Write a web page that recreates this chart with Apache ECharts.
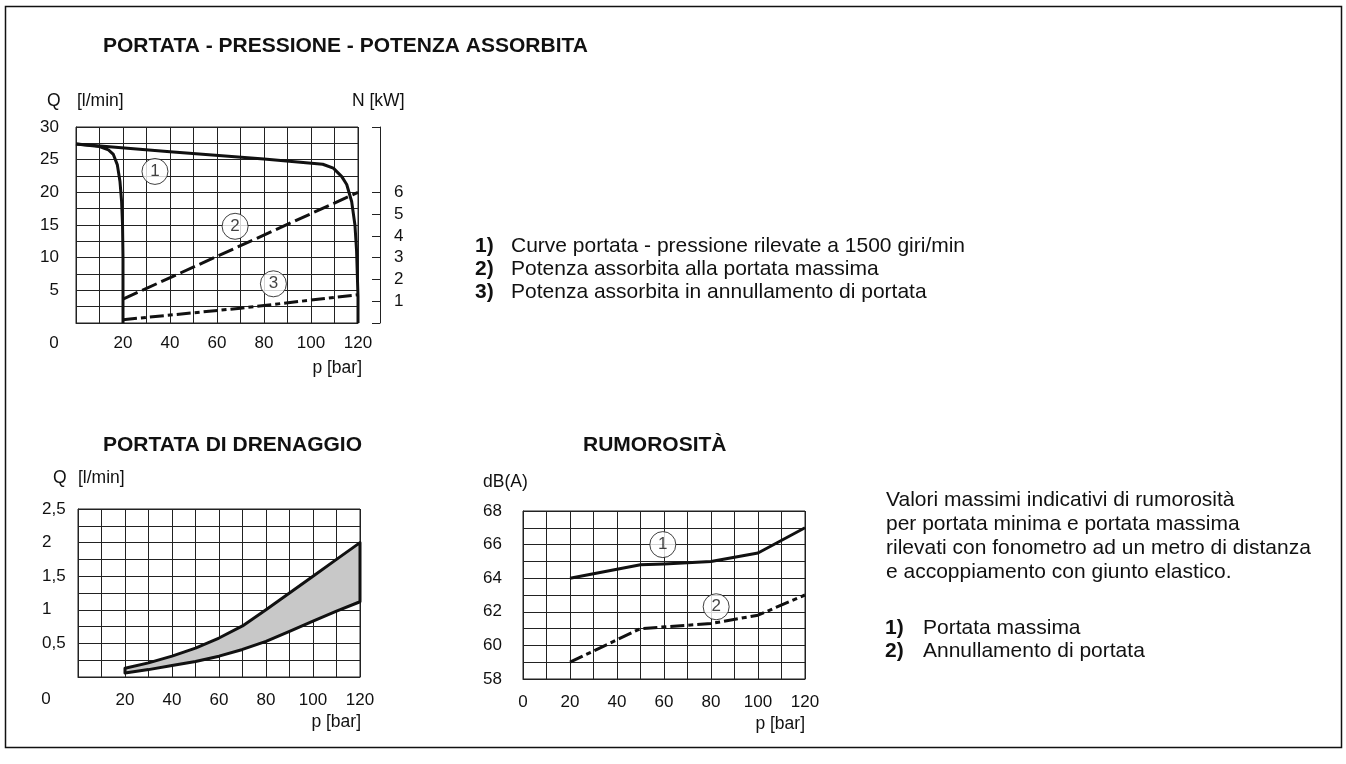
<!DOCTYPE html>
<html>
<head>
<meta charset="utf-8">
<title>Portata - pressione - potenza assorbita</title>
<script src="https://cdn.jsdelivr.net/npm/echarts@6/dist/echarts.min.js"></script>
<style>
  html, body { margin: 0; padding: 0; background: #fff; }
  #main { width: 1346px; height: 764px; }
</style>
</head>
<body>
<div id="main"></div>
<script>
// --- portata / pressione : p [bar], Q [l/min]
var flowLeft = [[0, 27.4], [10, 27.0], [13.8, 26.5], [15.9, 25.8], [17.6, 24.2], [18.7, 21.7], [19.4, 18.6], [19.8, 15], [20, 10], [20, 0]];
var flowRight = [[0, 27.4], [40, 26.2], [80, 25.1], [105, 24.3], [109.5, 23.7], [113.1, 22.4], [115.2, 21.2], [117.3, 18.6], [118.7, 15], [119.4, 11], [120, 4], [120, 0]];
// potenza assorbita : p [bar], N [kW]
var powerMax = [[20, 1.1], [120, 6.0]];
var powerZero = [[20, 0.15], [70, 0.68], [120, 1.3]];
var topMarks = [[33.6, 23.2, '1'], [67.7, 14.8, '2'], [84, 6.0, '3']];

// --- portata di drenaggio : p [bar], Q [l/min]
var drainUpper = [[20, 0.13], [30, 0.21], [40, 0.31], [50, 0.43], [60, 0.58], [70, 0.76], [80, 1.0], [90, 1.25], [100, 1.5], [110, 1.75], [120, 2.0]];
var drainLower = [[20, 0.06], [30, 0.11], [40, 0.17], [50, 0.23], [60, 0.31], [70, 0.41], [80, 0.53], [90, 0.68], [100, 0.83], [110, 0.98], [120, 1.12]];

// --- rumorosita : p [bar], dB(A)
var noiseMax = [[20, 64.0], [50, 64.8], [60, 64.85], [80, 65.0], [100, 65.5], [120, 67.0]];
var noiseZero = [[20, 59.0], [50, 61.0], [80, 61.3], [100, 61.8], [120, 63.0]];
var noiseMarks = [[59.5, 66.0, '1'], [82.2, 62.3, '2']];

// tick labels
var pTicksTop = [20, 40, 60, 80, 100, 120];
var pTicksNoise = [0, 20, 40, 60, 80, 100, 120];
var qTicksTop = [5, 10, 15, 20, 25, 30];
var nTicks = [1, 2, 3, 4, 5, 6];
var nTickMarks = [0, 1, 2, 3, 4, 5, 6, 9];
var qTicksDrain = [0.5, 1, 1.5, 2, 2.5];
var dbTicks = [58, 60, 62, 64, 66, 68];

var FONT = "'Liberation Sans', Arial, Helvetica, sans-serif";
var TICK = 17;
var BODY = 21;
var gridLine = { show: true, lineStyle: { color: '#222', width: 1 } };
var axisLine = { show: true, lineStyle: { color: '#222', width: 1 } };

function pAxis(gridIndex, ticks, margin) {
  return {
    type: 'value', gridIndex: gridIndex, min: 0, max: 120, interval: 10,
    axisLine: axisLine, axisTick: { show: false }, splitLine: gridLine,
    axisLabel: { customValues: ticks, margin: margin, color: '#111', fontSize: TICK, fontFamily: FONT }
  };
}

function curve(data, xi, yi, dash) {
  return {
    type: 'line', data: data, xAxisIndex: xi, yAxisIndex: yi,
    symbol: 'none', smooth: false, silent: true,
    lineStyle: { color: '#111', width: 3, type: dash || 'solid', cap: 'butt', join: 'round' }
  };
}

function circles(data, xi, yi) {
  return {
    type: 'scatter', data: data, xAxisIndex: xi, yAxisIndex: yi, z: 5, silent: true,
    symbol: 'circle', symbolSize: 26,
    itemStyle: { color: '#fff', borderColor: '#111', borderWidth: 1 },
    label: { show: true, position: 'inside', formatter: function (p) { return p.value[2]; }, color: '#111', fontSize: 17, fontFamily: FONT }
  };
}

function txt(s, x, y, size, bold, align) {
  return {
    type: 'text', x: x, y: y, silent: true,
    style: {
      text: s, fill: '#111', font: (bold ? 'bold ' : '') + size + 'px ' + FONT,
      align: align || 'left', verticalAlign: 'middle',
      textAlign: align || 'left', textVerticalAlign: 'middle'
    }
  };
}

var texts = [
  txt('PORTATA - PRESSIONE - POTENZA ASSORBITA', 103, 46, 21, true),
  txt('Q', 47, 101, 17.5), txt('[l/min]', 77, 101, 17.5),
  txt('N [kW]', 352, 101, 17.5),
  txt('0', 54, 343, TICK, false, 'center'),
  txt('p [bar]', 362, 368, 17.5, false, 'right'),
  txt('1)', 475, 246, BODY, true), txt('Curve portata - pressione rilevate a 1500 giri/min', 511, 246, BODY),
  txt('2)', 475, 269, BODY, true), txt('Potenza assorbita alla portata massima', 511, 269, BODY),
  txt('3)', 475, 292, BODY, true), txt('Potenza assorbita in annullamento di portata', 511, 292, BODY),

  txt('PORTATA DI DRENAGGIO', 103, 445, 21, true),
  txt('Q', 53, 478, 17.5), txt('[l/min]', 78, 478, 17.5),
  txt('0', 46, 699, TICK, false, 'center'),
  txt('p [bar]', 361, 722, 17.5, false, 'right'),

  txt('RUMOROSITÀ', 583, 445, 21, true),
  txt('dB(A)', 483, 482, 17.5),
  txt('p [bar]', 805, 724, 17.5, false, 'right'),

  txt('Valori massimi indicativi di rumorosità', 886, 500, BODY),
  txt('per portata minima e portata massima', 886, 524, BODY),
  txt('rilevati con fonometro ad un metro di distanza', 886, 548, BODY),
  txt('e accoppiamento con giunto elastico.', 886, 572, BODY),
  txt('1)', 885, 628, BODY, true), txt('Portata massima', 923, 628, BODY),
  txt('2)', 885, 651, BODY, true), txt('Annullamento di portata', 923, 651, BODY)
];

var frame = {
  type: 'rect', silent: true, z: -1,
  shape: { x: 5.5, y: 6.5, width: 1336, height: 741 },
  style: { fill: 'none', stroke: '#111', lineWidth: 1.5 }
};

var chart = echarts.init(document.getElementById('main'), null, { renderer: 'canvas' });

chart.setOption({
  animation: false,
  backgroundColor: '#fff',
  grid: [
    { left: 76, top: 127, width: 282, height: 196, show: true, borderColor: '#222', borderWidth: 1 },
    { left: 78, top: 509, width: 282, height: 168, show: true, borderColor: '#222', borderWidth: 1 },
    { left: 523, top: 511, width: 282, height: 168, show: true, borderColor: '#222', borderWidth: 1 }
  ],
  xAxis: [
    pAxis(0, pTicksTop, 12),
    pAxis(1, pTicksTop, 15),
    pAxis(2, pTicksNoise, 15)
  ],
  yAxis: [
    {
      type: 'value', gridIndex: 0, min: 0, max: 30, interval: 2.5,
      axisLine: axisLine, axisTick: { show: false }, splitLine: gridLine,
      axisLabel: { customValues: qTicksTop, margin: 17, color: '#111', fontSize: TICK, fontFamily: FONT }
    },
    {
      type: 'value', gridIndex: 0, min: 0, max: 9, interval: 1, position: 'right', offset: 22,
      axisLine: axisLine, splitLine: { show: false },
      axisTick: { show: true, inside: true, length: 8, customValues: nTickMarks, lineStyle: { color: '#222' } },
      axisLabel: { customValues: nTicks, margin: 14, color: '#111', fontSize: TICK, fontFamily: FONT }
    },
    {
      type: 'value', gridIndex: 1, min: 0, max: 2.5, interval: 0.25,
      axisLine: axisLine, axisTick: { show: false }, splitLine: gridLine,
      axisLabel: {
        customValues: qTicksDrain, margin: 36, align: 'left', color: '#111', fontSize: TICK, fontFamily: FONT,
        formatter: function (v) { return String(v).replace('.', ','); }
      }
    },
    {
      type: 'value', gridIndex: 2, min: 58, max: 68, interval: 1,
      axisLine: axisLine, axisTick: { show: false }, splitLine: gridLine,
      axisLabel: { customValues: dbTicks, margin: 21, color: '#111', fontSize: TICK, fontFamily: FONT }
    }
  ],
  series: [
    curve(flowLeft, 0, 0),
    curve(flowRight, 0, 0),
    curve(powerMax, 0, 1, [16, 5]),
    curve(powerZero, 0, 1, [14, 4, 5, 4]),
    circles(topMarks, 0, 0),
    {
      // banda grigia tra le due curve di drenaggio
      type: 'custom', xAxisIndex: 1, yAxisIndex: 2, silent: true, data: [0],
      renderItem: function (params, api) {
        var pts = drainUpper.map(function (d) { return api.coord(d); })
          .concat(drainLower.slice().reverse().map(function (d) { return api.coord(d); }));
        return {
          type: 'polygon', shape: { points: pts },
          style: { fill: '#c8c8c8', stroke: '#111', lineWidth: 3, lineJoin: 'round' }
        };
      }
    },
    curve(noiseMax, 2, 3),
    curve(noiseZero, 2, 3, [14, 4, 5, 4]),
    circles(noiseMarks, 2, 3)
  ],
  graphic: [frame].concat(texts)
});
</script>
</body>
</html>
